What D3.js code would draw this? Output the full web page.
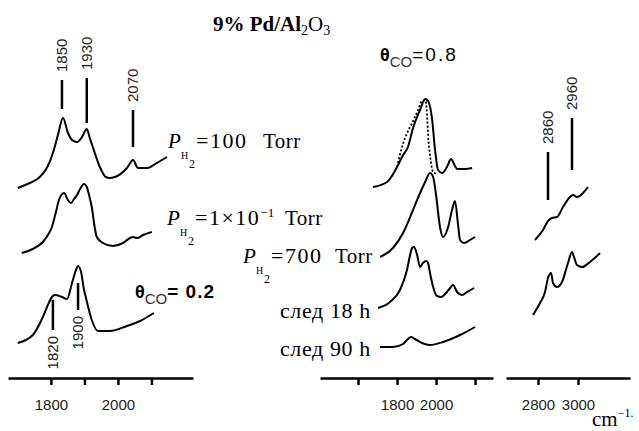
<!DOCTYPE html>
<html>
<meta charset=utf-8>
<head>
<script src="https://cdn.jsdelivr.net/npm/d3@7"></script>
<style>
body { margin: 0; background: #fff; }
.tick text { font: 15px "Liberation Sans", sans-serif; fill: #222; }
.serif { font-family: "Liberation Serif", serif; fill: #000; }
.sans { font-family: "Liberation Sans", sans-serif; fill: #000; }
.peak { font: 15px "Liberation Sans", sans-serif; fill: #222; }
</style>
</head>
<body>
<script>

// ---- spectra, wavenumber (cm-1) and absorbance (a.u., stacked) ----
// left panel: CO region, theta=0.2 series
var wnL1 = [1701,1737,1767,1791,1806,1821,1836,1851,1863,1878,1893,1907,1916,1925,1946,1964,1976,1991,2027,2045,2060,2087,2116,2146];
var abL1 = [1.90,1.95,2.01,2.12,2.25,2.43,2.60,2.45,2.38,2.36,2.41,2.49,2.40,2.31,2.11,2.01,2.00,2.01,2.10,2.18,2.10,2.10,2.15,2.21];
var wnL2 = [1713,1746,1776,1791,1803,1815,1824,1839,1851,1860,1869,1878,1887,1899,1907,1916,1922,1931,1937,1955,1985,2015,2036,2045,2057,2075,2101];
var abL2 = [1.25,1.29,1.36,1.43,1.51,1.66,1.78,1.85,1.78,1.75,1.79,1.83,1.89,1.94,1.91,1.80,1.71,1.50,1.41,1.35,1.32,1.35,1.40,1.41,1.40,1.43,1.46];
var wnL3 = [1701,1746,1776,1791,1803,1812,1833,1848,1863,1875,1881,1890,1899,1904,1922,1940,1976,2027,2066,2107];
var abL3 = [0.35,0.43,0.61,0.73,0.81,0.83,0.81,0.79,0.95,1.08,1.12,1.06,0.88,0.81,0.58,0.47,0.47,0.52,0.57,0.65];

// middle panel: theta=0.8 series
var wnM1 = [1677,1749,1800,1831,1856,1882,1918,1944,1959,1979,1995,2010,2031,2056,2077,2097,2108,2149,2185];
var abM1 = [1.91,1.96,2.11,2.23,2.31,2.50,2.68,2.79,2.77,2.60,2.28,2.08,2.05,2.11,2.19,2.12,2.09,2.09,2.10];
var wnM1dot = [1800,1821,1841,1877,1908,1928,1944,1954,1959,1969,1985,2010];
var abM1dot = [2.11,2.28,2.40,2.55,2.68,2.77,2.78,2.63,2.43,2.23,2.06,2.04];
var wnM2 = [1713,1779,1831,1882,1918,1944,1969,1985,2000,2021,2036,2062,2082,2097,2113,2123,2144,2174,2200];
var abM2 = [1.21,1.30,1.45,1.68,1.85,1.96,2.05,2.01,1.83,1.50,1.41,1.51,1.68,1.77,1.53,1.38,1.35,1.38,1.41];
var wnM3 = [1703,1764,1815,1851,1867,1877,1887,1903,1918,1933,1949,1959,1969,1985,2005,2026,2051,2072,2087,2108,2133,2159,2195];
var abM3 = [0.70,0.76,0.88,1.08,1.23,1.30,1.31,1.23,1.11,1.15,1.17,1.15,1.05,0.91,0.82,0.81,0.85,0.90,0.93,0.86,0.83,0.86,0.90];
var wnM4 = [1713,1779,1831,1872,1892,1928,1969,2036,2123,2200];
var abM4 = [0.31,0.31,0.34,0.41,0.39,0.35,0.33,0.36,0.43,0.51];

// right panel: CH region
var wnR1 = [2785,2825,2850,2870,2895,2925,2960,2975,2995,3025,3050];
var abR1 = [1.38,1.48,1.57,1.60,1.61,1.71,1.81,1.83,1.81,1.85,1.91];
var wnR2 = [2775,2810,2835,2850,2865,2875,2895,2920,2950,2970,2980,2995,3020,3060,3110];
var abR2 = [0.63,0.75,0.86,1.00,1.05,0.95,0.91,0.96,1.15,1.26,1.21,1.13,1.11,1.16,1.25];

// peak markers: label, panel, wavenumber, line top/bottom (a.u.), label side
var peakText  = ["1850","1930","2070","1820","1900","2860","2960"];
var peakPanel = ["L","L","L","L","L","R","R"];
var peakWn    = [1833,1907,2045,1806,1881,2850,2970];
var peakTop   = [2.98,3.00,2.68,0.78,0.95,2.26,2.60];
var peakBot   = [2.69,2.55,2.31,0.48,0.68,1.78,2.08];
var peakSide  = ["up","up","up","down","down","up","up"];

// axis ticks
var ticksL = [1800,1900,2000,2100], labelsL = [1800,2000];
var ticksM = [1600,1800,2000,2200], labelsM = [1800,2000];
var ticksR = [2800,3000], labelsR = [2800,3000];

var svg = d3.select("body").append("svg")
    .attr("width", 639).attr("height", 431);

var x = {
  L: d3.scaleLinear().domain([1672, 2224]).range([8, 193]),
  M: d3.scaleLinear().domain([1405, 2292]).range([320, 493]),
  R: d3.scaleLinear().domain([2640, 3260]).range([506, 630])
};
var y = d3.scaleLinear().domain([0, 3.6]).range([378, 18]);

var spectra = [
  {p:"L", wn:wnL1, ab:abL1}, {p:"L", wn:wnL2, ab:abL2}, {p:"L", wn:wnL3, ab:abL3},
  {p:"M", wn:wnM1, ab:abM1}, {p:"M", wn:wnM1dot, ab:abM1dot, dot:true},
  {p:"M", wn:wnM2, ab:abM2}, {p:"M", wn:wnM3, ab:abM3}, {p:"M", wn:wnM4, ab:abM4},
  {p:"R", wn:wnR1, ab:abR1}, {p:"R", wn:wnR2, ab:abR2}
];

spectra.forEach(function(s) {
  var line = d3.line()
      .x(function(d) { return x[s.p](d[0]); })
      .y(function(d) { return y(d[1]); })
      .curve(d3.curveMonotoneX);
  svg.append("path")
      .datum(d3.zip(s.wn, s.ab))
      .attr("d", line)
      .attr("fill", "none")
      .attr("stroke", "#000")
      .attr("stroke-width", s.dot ? 1.8 : 2)
      .attr("stroke-dasharray", s.dot ? "2,2" : null)
      .attr("stroke-linejoin", "round");
});

// axes
function drawAxis(sc, tv, lv) {
  var g = svg.append("g")
      .attr("transform", "translate(0,378)")
      .call(d3.axisBottom(sc).tickValues(tv).tickSize(7).tickSizeOuter(0)
        .tickFormat(function(d) { return lv.indexOf(d) >= 0 ? d : ""; }));
  g.select(".domain").attr("stroke-width", 2.5);
  g.selectAll(".tick line").attr("stroke-width", 2.5);
  g.selectAll(".tick text").attr("y", 21).attr("dy", "0.71em");
}
drawAxis(x.L, ticksL, labelsL);
drawAxis(x.M, ticksM, labelsM);
drawAxis(x.R, ticksR, labelsR);

// peak markers
peakText.forEach(function(t, i) {
  var px = x[peakPanel[i]](peakWn[i]);
  svg.append("line")
      .attr("x1", px).attr("x2", px)
      .attr("y1", y(peakTop[i])).attr("y2", y(peakBot[i]))
      .attr("stroke", "#000").attr("stroke-width", 2.5);
  var up = peakSide[i] == "up";
  var ty = up ? y(peakTop[i]) - 8 : y(peakBot[i]) + 6;
  svg.append("text")
      .attr("class", "peak")
      .attr("transform", "translate(" + px + "," + ty + ") rotate(-90)")
      .attr("text-anchor", up ? "start" : "end")
      .attr("dy", "0.35em")
      .text(t);
});

// title
var ti = svg.append("text").attr("class", "serif").attr("x", 213).attr("y", 31).attr("font-size", 21);
ti.append("tspan").attr("font-weight", "bold").text("9% Pd/Al");
ti.append("tspan").attr("font-size", 14).attr("dy", 4).text("2");
ti.append("tspan").attr("dy", -4).text("O");
ti.append("tspan").attr("font-size", 14).attr("dy", 4).text("3");

// theta labels
function theta(x0, yb, val, bold) {
  var t = svg.append("text").attr("class", "sans").attr("x", x0).attr("y", yb).attr("font-size", 18);
  t.append("tspan").attr("font-weight", "bold").text("θ");
  t.append("tspan").attr("font-size", 15).attr("dy", 6).attr("fill", "#333").text("CO");
  t.append("tspan").attr("dy", -6).attr("font-size", 19).attr("letter-spacing", bold ? 1 : 2)
      .attr("font-weight", bold ? "bold" : null).text(val);
}
theta(135, 298, "= 0.2", true);
theta(380, 61, "=0.8", false);

// pressure labels
function pLabel(x0, yb, main, sup, tail, tailX) {
  var t = svg.append("text").attr("class", "serif").attr("x", x0).attr("y", yb).attr("font-size", 21);
  t.append("tspan").attr("font-style", "italic").text("P");
  svg.append("text").attr("class", "serif").attr("x", x0 + 13).attr("y", yb + 11).attr("font-size", 10).text("H");
  svg.append("text").attr("class", "serif").attr("x", x0 + 21).attr("y", yb + 20).attr("font-size", 12).text("2");
  t.append("tspan").attr("x", x0 + 28).attr("font-size", 22).attr("letter-spacing", 1.5).text(main);
  if (sup) t.append("tspan").attr("font-size", 13).attr("dy", -8).text(sup);
  t.append("tspan").attr("x", tailX).attr("dy", sup ? 8 : 0).attr("letter-spacing", 0.5).text(tail);
}
pLabel(168, 148, "=100", null, "Torr", 263);
pLabel(167, 225, "=1×10", "−1", "Torr", 285);
pLabel(243, 263, "=700", null, "Torr", 335);

svg.append("text").attr("class", "serif").attr("font-size", 22).attr("letter-spacing", 0.6)
    .attr("x", 280).attr("y", 318).text("след 18 h");
svg.append("text").attr("class", "serif").attr("font-size", 22).attr("letter-spacing", 0.6)
    .attr("x", 280).attr("y", 356).text("след 90 h");

// unit
var cm = svg.append("text").attr("class", "serif").attr("font-size", 21).attr("x", 592).attr("y", 426);
cm.append("tspan").text("cm");
cm.append("tspan").attr("font-size", 12).attr("dy", -9).text("−1.");

</script>
</body>
</html>
